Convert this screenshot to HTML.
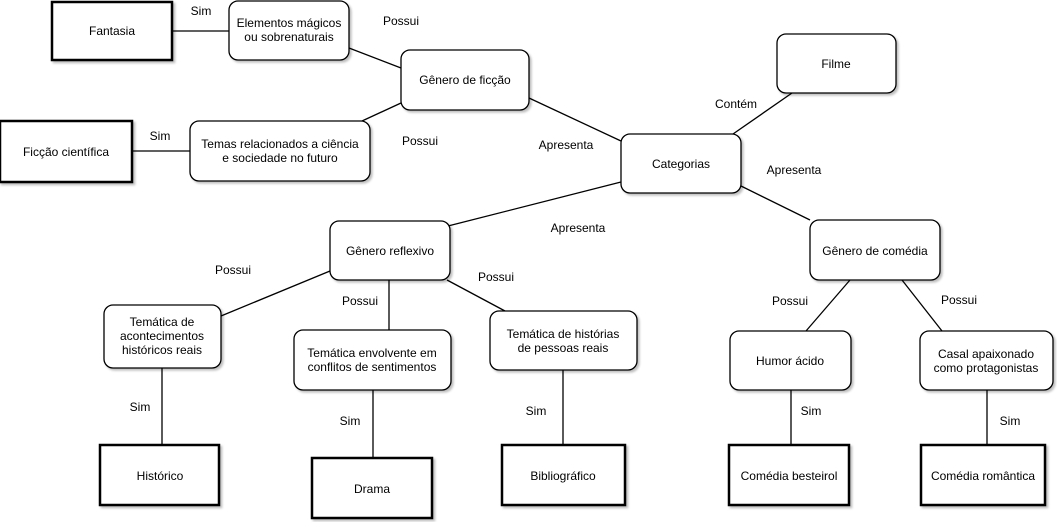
<!DOCTYPE html>
<html><head><meta charset="utf-8"><style>
body{margin:0;background:#fff}
svg text{font-family:"Liberation Sans","DejaVu Sans",sans-serif;font-size:12px;fill:#000}
</style></head><body>
<svg width="1057" height="522" xmlns="http://www.w3.org/2000/svg">
<defs><filter id="s"><feDropShadow dx="2" dy="2" stdDeviation="1" flood-opacity="0.25"/></filter></defs>
<g stroke="#000" stroke-width="1.3" fill="none">
<line x1="172" y1="31" x2="229" y2="31"/>
<line x1="349" y1="48" x2="401" y2="68"/>
<line x1="401" y1="103" x2="362" y2="121"/>
<line x1="132" y1="151" x2="190" y2="151"/>
<line x1="529" y1="98" x2="621" y2="141"/>
<line x1="792" y1="93" x2="733" y2="134"/>
<line x1="621" y1="182" x2="448" y2="226"/>
<line x1="741" y1="186" x2="810" y2="220"/>
<line x1="330" y1="271" x2="221" y2="316"/>
<line x1="389" y1="280" x2="389" y2="330"/>
<line x1="447" y1="280" x2="505" y2="311"/>
<line x1="850" y1="280" x2="806" y2="331"/>
<line x1="902" y1="280" x2="942" y2="331"/>
<line x1="162" y1="368" x2="162" y2="445"/>
<line x1="373" y1="390" x2="373" y2="458"/>
<line x1="563" y1="370" x2="563" y2="445"/>
<line x1="791" y1="390" x2="791" y2="445"/>
<line x1="987" y1="390" x2="987" y2="445"/>
</g>
<g fill="#fff" stroke="#000" filter="url(#s)">
<rect x="52" y="2" width="120" height="58" stroke-width="2.5"/>
<rect x="0" y="121" width="132" height="61" stroke-width="2.5"/>
<rect x="100" y="445" width="119" height="60" stroke-width="2.5"/>
<rect x="312" y="458" width="120" height="60" stroke-width="2.5"/>
<rect x="502" y="445" width="123" height="60" stroke-width="2.5"/>
<rect x="729" y="445" width="120" height="60" stroke-width="2.5"/>
<rect x="921" y="445" width="124" height="60" stroke-width="2.5"/>
<g stroke-width="1.3">
<rect x="229" y="1" width="120" height="59" rx="9"/>
<rect x="401" y="50" width="128" height="60" rx="9"/>
<rect x="777" y="34" width="119" height="59" rx="9"/>
<rect x="190" y="121" width="180" height="60" rx="9"/>
<rect x="621" y="134" width="120" height="59" rx="9"/>
<rect x="330" y="221" width="120" height="59" rx="9"/>
<rect x="810" y="220" width="130" height="60" rx="9"/>
<rect x="104" y="305" width="117" height="63" rx="9"/>
<rect x="294" y="330" width="157" height="60" rx="9"/>
<rect x="490" y="311" width="147" height="59" rx="9"/>
<rect x="730" y="331" width="121" height="59" rx="9"/>
<rect x="920" y="331" width="133" height="59" rx="9"/>
</g></g>
<g text-anchor="middle">
<text x="112" y="35">Fantasia</text>
<text x="289" y="27">Elementos mágicos</text><text x="289" y="41">ou sobrenaturais</text>
<text x="465" y="84">Gênero de ficção</text>
<text x="836" y="68">Filme</text>
<text x="66" y="156">Ficção científica</text>
<text x="280" y="148">Temas relacionados a ciência</text><text x="280" y="162">e sociedade no futuro</text>
<text x="681" y="168">Categorias</text>
<text x="390" y="255">Gênero reflexivo</text>
<text x="875" y="255">Gênero de comédia</text>
<text x="162" y="326">Temática de</text><text x="162" y="340">acontecimentos</text><text x="162" y="354">históricos reais</text>
<text x="372" y="357">Temática envolvente em</text><text x="372" y="371">conflitos de sentimentos</text>
<text x="563" y="338">Temática de histórias</text><text x="563" y="352">de pessoas reais</text>
<text x="790" y="365">Humor ácido</text>
<text x="986" y="358">Casal apaixonado</text><text x="986" y="372">como protagonistas</text>
<text x="160" y="480">Histórico</text>
<text x="372" y="493">Drama</text>
<text x="563" y="480">Bibliográfico</text>
<text x="789" y="480">Comédia besteirol</text>
<text x="983" y="480">Comédia romântica</text>
<text x="201" y="15">Sim</text>
<text x="401" y="25">Possui</text>
<text x="420" y="145">Possui</text>
<text x="160" y="140">Sim</text>
<text x="566" y="149">Apresenta</text>
<text x="736" y="108">Contém</text>
<text x="578" y="232">Apresenta</text>
<text x="794" y="174">Apresenta</text>
<text x="233" y="274">Possui</text>
<text x="360" y="305">Possui</text>
<text x="496" y="281">Possui</text>
<text x="790" y="305">Possui</text>
<text x="959" y="304">Possui</text>
<text x="140" y="411">Sim</text>
<text x="350" y="425">Sim</text>
<text x="536" y="415">Sim</text>
<text x="811" y="415">Sim</text>
<text x="1010" y="425">Sim</text>
</g>
</svg>
</body></html>
